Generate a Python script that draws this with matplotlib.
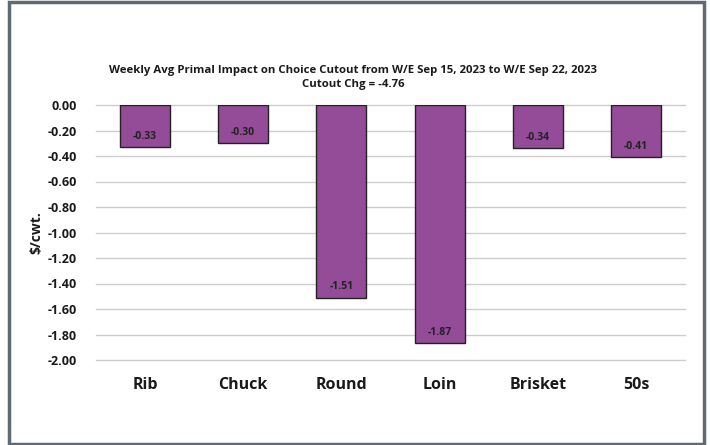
import matplotlib
matplotlib.use("Agg")
import matplotlib.pyplot as plt
from matplotlib.patches import Rectangle

categories = ["Rib", "Chuck", "Round", "Loin", "Brisket", "50s"]
values = [-0.33, -0.30, -1.51, -1.87, -0.34, -0.41]
yticks = [0.0, -0.2, -0.4, -0.6, -0.8, -1.0, -1.2, -1.4, -1.6, -1.8, -2.0]
title = "Weekly Avg Primal Impact on Choice Cutout from W/E Sep 15, 2023 to W/E Sep 22, 2023\nCutout Chg = -4.76"

plt.rcParams['font.family'] = ['Open Sans', 'DejaVu Sans']

W, H = 710, 445
fig = plt.figure(figsize=(W/100, H/100), dpi=100)
fig.patch.set_facecolor("white")

ax = fig.add_axes([96/W, 1-360/H, (685-96)/W, (360-105)/H])
x = list(range(len(categories)))
bars = ax.bar(x, values, width=0.51, color="#944b98", edgecolor="#222222", linewidth=1.0, zorder=3)
for xi, v in zip(x, values):
    ax.annotate(f"{v:.2f}", (xi, v), xytext=(0, 4), textcoords="offset points",
                ha="center", va="bottom", fontsize=7.5, fontweight="bold", color="#222222", zorder=4)

ax.set_xlim(-0.5, len(categories)-0.5)
ax.set_ylim(-2.0, 0.0)
ax.set_yticks(yticks)
ax.set_yticklabels([f"{t:.2f}" for t in yticks], fontsize=9, fontweight="bold", color="#1a1a1a")
ax.set_xticks(x)
ax.set_xticklabels(categories, fontsize=11.5, fontweight="bold", color="#1a1a1a")
ax.tick_params(axis="both", length=0)
ax.tick_params(axis="x", pad=12)
ax.tick_params(axis="y", pad=14)
for s in ax.spines.values():
    s.set_visible(False)
ax.grid(axis="y", color="#cccccc", linewidth=1.0, zorder=0)
for gl in ax.get_ygridlines():
    gl.set_clip_on(False)
ax.set_axisbelow(True)
ax.set_ylabel("$/cwt.", fontsize=10, fontweight="bold", color="#1a1a1a", labelpad=3)

fig.text(353/W, 1-77.5/H, title, ha="center", va="center", fontsize=8.2, fontweight="bold",
         color="#1a1a1a", linespacing=1.5)

fig.patches.append(Rectangle((8.5/W, 1.5/H), (704-8.5)/W, (443-1.5)/H, transform=fig.transFigure,
                             fill=False, edgecolor="#5f6a73", linewidth=2.5, zorder=10))

fig.savefig("out.png", dpi=100, facecolor="white")
